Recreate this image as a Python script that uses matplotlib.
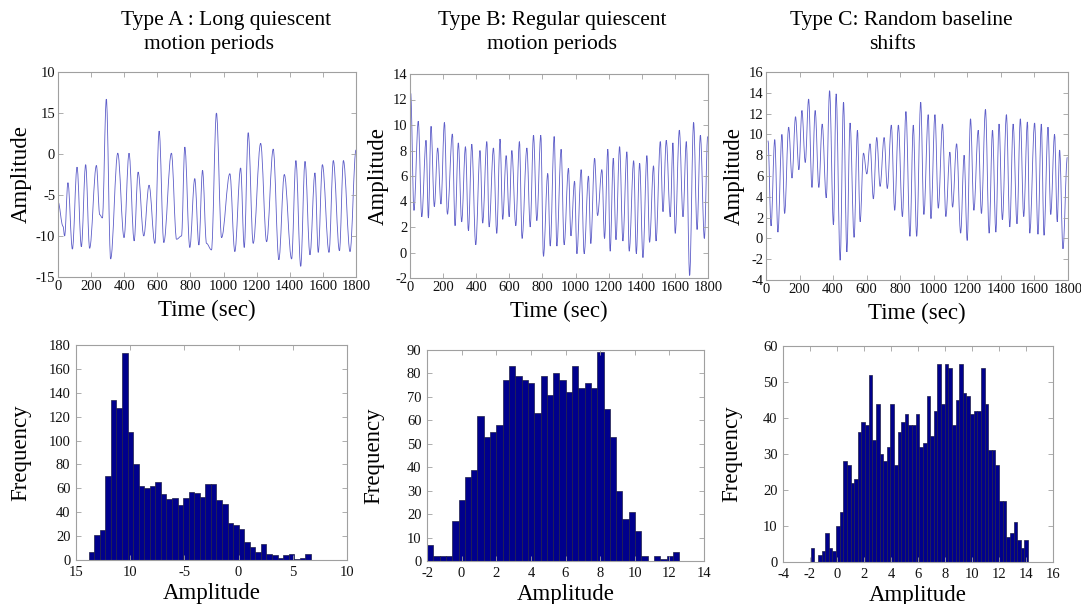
import numpy as np
import matplotlib
matplotlib.use("Agg")
import matplotlib.pyplot as plt
from matplotlib.path import Path
from matplotlib.patches import PathPatch

plt.rcParams['font.family'] = ['Liberation Serif', 'DejaVu Serif']
plt.rcParams['axes.unicode_minus'] = False

# ---------------- data: time series (extrema) ----------
time_a = [0, 30, 40, 60, 87, 115, 141, 167, 191, 232, 252, 268, 292, 318, 361, 399,
          429, 460, 484, 518, 550, 585, 611, 639, 685, 716, 746, 766, 796, 826, 851,
          873, 897, 927, 957, 988, 1038, 1068, 1103, 1125, 1149, 1179, 1224, 1260,
          1300, 1334, 1367, 1411, 1437, 1466, 1492, 1522, 1552, 1572, 1597, 1637,
          1663, 1700, 1724, 1764, 1800]
amp_a = [-5.8, -8.8, -10.0, -3.5, -11.6, -1.6, -11.3, -1.3, -11.5, -1.4, -7.4, -7.8,
         6.7, -12.8, 0.1, -10.2, 0.1, -10.6, -2.2, -10.0, -3.8, -10.9, 2.8, -10.8,
         0.1, -10.4, -10.0, 0.85, -11.4, -3.0, -11.1, -2.0, -10.9, -11.7, 5.0, -10.2,
         -2.4, -11.9, -1.7, -11.4, 2.6, -10.9, 1.3, -10.7, 0.6, -12.9, -2.5, -12.8,
         -0.8, -13.7, -0.9, -12.3, -2.3, -12.0, -1.3, -12.0, -0.8, -11.8, -0.8,
         -11.9, 0.5]

time_b = [4, 24, 50, 71, 97, 111, 127, 147, 167, 187, 208, 226, 256, 272, 292, 312,
          335, 353, 373, 397, 423, 439, 464, 478, 504, 524, 544, 560, 581, 599, 615,
          639, 661, 677, 706, 726, 746, 766, 790, 806, 832, 847, 871, 887, 913, 931,
          957, 972, 994, 1008, 1034, 1052, 1078, 1092, 1115, 1133, 1159, 1175, 1195,
          1209, 1228, 1244, 1266, 1286, 1310, 1324, 1351, 1367, 1387, 1407, 1431,
          1447, 1471, 1486, 1512, 1528, 1548, 1572, 1588, 1602, 1627, 1649, 1669,
          1689, 1713, 1734, 1754, 1778, 1798]
amp_b = [12.5, 3.3, 10.3, 2.8, 8.8, 2.7, 9.9, 3.6, 8.2, 3.8, 10.2, 3.0, 9.3, 2.1, 8.6,
         2.4, 8.3, 1.7, 8.5, 0.6, 8.0, 2.3, 8.7, 2.0, 8.2, 1.5, 8.9, 2.6, 7.6, 2.8,
         8.0, 2.1, 8.7, 1.1, 8.2, 2.0, 9.2, 2.5, 9.2, -0.3, 6.2, 0.5, 9.1, 0.5, 8.1,
         0.6, 6.6, 1.3, 5.6, -0.1, 6.5, -0.1, 6.0, 0.7, 7.4, 2.9, 6.5, 1.1, 8.1, 0.1,
         7.4, 1.0, 8.3, 0.9, 7.9, 0.1, 7.2, -0.1, 7.0, -0.4, 7.6, 0.8, 6.8, 0.9, 8.7,
         3.2, 8.8, 2.8, 8.6, 1.5, 9.6, 2.8, 8.7, -1.8, 10.2, 1.8, 9.2, 1.1, 9.1]

time_c = [12, 30, 52, 71, 95, 111, 135, 155, 176, 196, 214, 234, 254, 274, 293, 315,
          335, 359, 379, 402, 418, 442, 462, 482, 501, 525, 545, 561, 581, 601, 620,
          640, 660, 680, 704, 723, 747, 767, 789, 813, 834, 858, 878, 898, 922, 941,
          967, 983, 1007, 1027, 1052, 1072, 1096, 1112, 1136, 1160, 1181, 1199, 1219,
          1239, 1265, 1284, 1308, 1330, 1350, 1370, 1389, 1409, 1433, 1453, 1473,
          1496, 1516, 1536, 1558, 1572, 1601, 1621, 1641, 1657, 1681, 1697, 1720,
          1736, 1750, 1770, 1796]
amp_c = [9.4, 1.2, 9.5, 0.6, 10.0, 2.4, 10.7, 5.8, 11.7, 6.6, 12.3, 7.3, 13.4, 4.9,
         12.3, 4.9, 11.0, 3.9, 14.2, 1.3, 13.9, -2.1, 13.1, -1.3, 11.1, 0.1, 10.4, 1.6,
         8.2, 6.2, 9.1, 3.8, 9.7, 5.0, 9.7, 4.8, 10.9, 2.7, 10.9, 2.1, 12.2, 0.2, 10.9,
         0.2, 13.1, 2.3, 11.9, 1.9, 11.9, 2.9, 11.0, 2.1, 8.3, 3.0, 9.1, 0.5, 8.0, -0.2,
         11.5, 2.7, 10.4, 2.4, 12.4, 0.5, 10.4, 0.6, 11.0, 1.8, 11.9, 1.1, 11.0, 1.4,
         11.5, 2.1, 11.2, 0.5, 11.1, 0.4, 11.0, 0.3, 10.7, 2.3, 10.0, 1.6, 8.5, -1.0,
         7.8]

# ---------------- data: histograms -------------------------------------------
hist_a_range = (-13.83, 6.67)
hist_a_counts = [7, 21, 25, 70, 134, 127, 173, 107, 80, 62, 60, 62, 65, 55, 51, 52, 46,
                 52, 57, 56, 53, 64, 64, 50, 47, 31, 29, 26, 15, 11, 7, 13, 5, 4, 2, 4,
                 5, 1, 2, 5]
hist_b_range = (-2.0, 12.57)
hist_b_counts = [7, 2, 2, 2, 17, 26, 36, 39, 62, 53, 55, 58, 77, 83, 79, 77, 76, 63, 79,
                 71, 80, 77, 72, 83, 74, 76, 74, 89, 65, 53, 30, 18, 21, 13, 2, 0, 2, 1,
                 2, 4]
hist_c_range = (-1.95, 14.15)
hist_c_counts = [4, 0, 2, 3, 8, 4, 3, 10, 14, 28, 27, 22, 23, 36, 39, 38, 52, 34, 44, 30,
                 28, 32, 44, 27, 36, 39, 41, 38, 38, 41, 32, 33, 46, 35, 42, 55, 44, 55,
                 54, 38, 45, 55, 47, 46, 41, 42, 42, 54, 44, 31, 31, 27, 17, 17, 7, 8, 11,
                 6, 4, 6]

title_line1 = ["Type A : Long quiescent", "Type B: Regular quiescent",
               "Type C: Random baseline"]
title_line2 = ["motion periods", "motion periods", "shifts"]
time_ticks = list(range(0, 1801, 200))
a_yticks = [-15, -10, -5, 0, 5, 10]
a_yticklabels = ["-15", "-10", "-5", "0", "15", "10"]
ha_xticks = [-15, -10, -5, 0, 5, 10]
ha_xticklabels = ["15", "10", "-5", "0", "5", "10"]

# ---------------- figure -----------------------------------------------------
W, H = 1081, 604
fig = plt.figure(figsize=(W / 100, H / 100), dpi=100)


def rect(l, t, r, b):
    return [l / W, (H - b) / H, (r - l) / W, (b - t) / H]


LINE_COL = '#5d5dc8'
SPINE_COL = '#a0a0a0'
TICK_FS = 10.5
LAB_FS = 16.5


def style(ax, xpad=2, ypad=2):
    for s in ax.spines.values():
        s.set_color(SPINE_COL)
        s.set_linewidth(0.8)
    ax.tick_params(direction='in', length=3.5, width=0.6, color=SPINE_COL,
                   top=True, right=True, labelsize=TICK_FS,
                   labelcolor='#111111')
    ax.tick_params(axis='x', pad=xpad)
    ax.tick_params(axis='y', pad=ypad)


def smooth_trace(ax, t, a, k=0.36):
    """Draw a smooth curve through the extrema (flat tangents at each extremum)."""
    verts = [(t[0], a[0])]
    codes = [Path.MOVETO]
    for i in range(1, len(t)):
        d = t[i] - t[i - 1]
        verts += [(t[i - 1] + k * d, a[i - 1]), (t[i] - k * d, a[i]), (t[i], a[i])]
        codes += [Path.CURVE4] * 3
    ax.add_patch(PathPatch(Path(verts, codes), facecolor='none',
                           edgecolor=LINE_COL, lw=0.6))


top_rects = [rect(58, 72, 356, 277), rect(410, 74, 708, 278), rect(766, 72, 1068, 280)]
bot_rects = [rect(76, 345, 347, 560), rect(427, 350, 704, 561), rect(783, 346, 1053, 562)]

series = [(time_a, amp_a, (-15, 10), a_yticks, a_yticklabels),
          (time_b, amp_b, (-2, 14), list(range(-2, 15, 2)), None),
          (time_c, amp_c, (-4, 16), list(range(-4, 17, 2)), None)]

for r, (t, a, yl, yt, ytl) in zip(top_rects, series):
    ax = fig.add_axes(r)
    smooth_trace(ax, t, a)
    ax.set_xlim(0, 1800)
    ax.set_ylim(*yl)
    ax.set_xticks(time_ticks)
    ax.set_yticks(yt)
    if ytl is not None:
        ax.set_yticklabels(ytl)
    ax.set_xlabel("Time (sec)", fontsize=LAB_FS, labelpad=5)
    ax.set_ylabel("Amplitude", fontsize=LAB_FS, labelpad=3)
    style(ax)

hists = [(hist_a_range, hist_a_counts, (-15, 10), ha_xticks, ha_xticklabels, (0, 180), 20, -0.166),
         (hist_b_range, hist_b_counts, (-2, 14), list(range(-2, 15, 2)), None, (0, 90), 10, -0.155),
         (hist_c_range, hist_c_counts, (-4, 16), list(range(-4, 17, 2)), None, (0, 60), 10, -0.152)]

for r, (rng, counts, xl, xt, xtl, yl, ystep, ylx) in zip(bot_rects, hists):
    ax = fig.add_axes(r)
    n = len(counts)
    edges = np.linspace(rng[0], rng[1], n + 1)
    ax.bar(edges[:-1], counts, width=np.diff(edges), align='edge',
           color='#00008c', edgecolor='#20204a', linewidth=0.5)
    ax.set_xlim(*xl)
    ax.set_ylim(*yl)
    ax.set_xticks(xt)
    if xtl is not None:
        ax.set_xticklabels(xtl)
    ax.set_yticks(list(range(yl[0], yl[1] + 1, ystep)))
    ax.set_xlabel("Amplitude", fontsize=LAB_FS, labelpad=3)
    ax.set_ylabel("Frequency", fontsize=LAB_FS)
    ax.yaxis.set_label_coords(ylx, 0.5)
    style(ax, xpad=4, ypad=4)

l1_x = [226, 552, 901]
l2_x = [209, 552, 893]
for x1, x2, s1, s2 in zip(l1_x, l2_x, title_line1, title_line2):
    fig.text(x1 / W, 1 - 25 / H, s1, ha='center', va='baseline', fontsize=15.5)
    fig.text(x2 / W, 1 - 49 / H, s2, ha='center', va='baseline', fontsize=15.5)

fig.savefig("out.png", dpi=100)
